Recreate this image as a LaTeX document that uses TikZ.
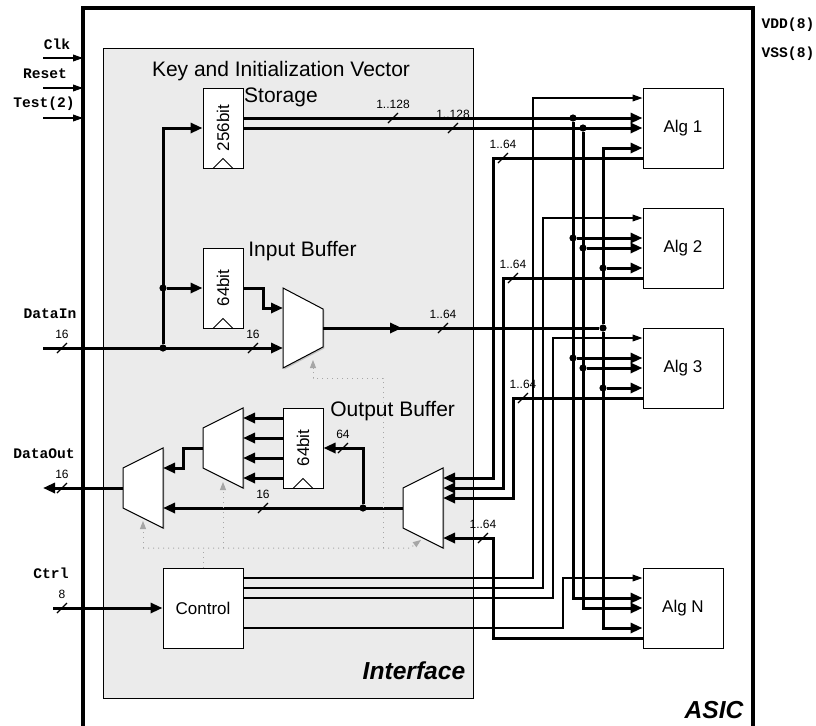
\documentclass[tikz,border=0pt]{standalone}
\usepackage{fontspec}
\setmainfont{Liberation Sans}
\newfontfamily\pinfont{Liberation Mono}
\usetikzlibrary{arrows.meta,shadows}

\tikzset{
  wire/.style={line width=0.6pt},
  bus/.style={line width=1.5pt},
  busarrow/.style={bus, -{Triangle[length=6pt,width=5pt]}},
  wirearrow/.style={wire, -{Triangle[length=5pt,width=3.4pt]}},
  ctlline/.style={black!35, dotted, line width=0.5pt},
  ctlarrow/.style={ctlline, -{Triangle[length=4pt,width=3pt]}},
  boxshadow/.style={drop shadow={shadow xshift=0.7pt, shadow yshift=-0.7pt, opacity=0.4}},
  block/.style={draw, fill=white, line width=0.5pt, minimum width=40pt, minimum height=40pt,
    inner sep=0pt, font=\fontsize{8.5}{10}\selectfont, boxshadow},
  reg/.style={block, minimum width=20pt},
  mux/.style={draw, fill=white, line width=0.5pt, boxshadow},
  pinlabel/.style={font=\pinfont\bfseries\fontsize{7.3}{9}\selectfont},
  blocktitle/.style={inner sep=0pt, font=\fontsize{10.5}{13}\selectfont},
  bigtitle/.style={font=\bfseries\itshape\fontsize{12.3}{14}\selectfont},
  jdot/.style={circle, fill, inner sep=0pt, minimum size=3.6pt},
  pics/buswidth/.style={code={
    \draw[wire] (-5,5) -- (5,-5);
    \node[font=\fontsize{6}{7}\selectfont] at (0,-14) {#1};
  }},
}

\begin{document}
\begin{tikzpicture}[x=0.5pt, y=-0.5pt]
    % 1. Page and frames
    \clip (0,0) rectangle (816,725);
    \draw[line width=2pt] (83,8) rectangle (753,745);
    \draw[fill=black!8, line width=0.5pt, boxshadow] (103,48) rectangle (473,698);
    \node[bigtitle] (iflabel) at (414,671) {Interface};
    \node[bigtitle] (asiclabel) at (714,710) {ASIC};

    % 2. Pins
    \node[pinlabel] (clk) at (57,44) {Clk};
    \node[pinlabel] (rst) at (45,74) {Reset};
    \node[pinlabel] (tst) at (44,104) {Test(2)};
    \node[pinlabel] (vdd) at (788,25) {VDD(8)};
    \node[pinlabel] (vss) at (788,54) {VSS(8)};
    \node[pinlabel] (din) at (50,314) {DataIn};
    \node[pinlabel] (dout) at (44,454) {DataOut};
    \node[pinlabel] (ctl) at (51,573) {Ctrl};
    \foreach \y in {58,88,118}
        \draw[wirearrow] (43,\y) -- (83,\y);

    % 3. Registers, control and algorithm blocks
    \node[reg] (kreg) at (223,128) {};
    \node[reg] (ibuf) at (223,288) {};
    \node[reg] (obuf) at (303,448) {};
    \node[rotate=90, font=\fontsize{8.5}{10}\selectfont] (kregtxt) at (kreg) {256bit};
    \node[rotate=90, font=\fontsize{8.5}{10}\selectfont] (ibuftxt) at (ibuf) {64bit};
    \node[rotate=90, font=\fontsize{8.5}{10}\selectfont] (obuftxt) at (obuf) {64bit};
    \foreach \r in {kreg,ibuf,obuf}
        \draw[line width=0.5pt] ([xshift=-5pt]\r.south) -- ([yshift=5pt]\r.south) -- ([xshift=5pt]\r.south);
    \node[blocktitle, align=center] (keytitle) at (281,84) {Key and Initialization Vector\\Storage};
    \node[blocktitle, anchor=west] (ibtitle) at (248,251) {Input Buffer};
    \node[blocktitle, anchor=west] (obtitle) at (330,411) {Output Buffer};
    \node[block] (ctrl) at (203,608) {Control};
    \foreach \n/\y in {1/128, 2/248, 3/368, N/608}
        \node[block] (alg\n) at (683,\y) {Alg \n};

    % 4. Multiplexers
    \draw[mux] (283,288) -- (323,309) -- (323,347) -- (283,368) -- cycle;
    \draw[mux] (243,408) -- (203,428) -- (203,468) -- (243,488) -- cycle;
    \draw[mux] (163,448) -- (123,468) -- (123,508) -- (163,528) -- cycle;
    \draw[mux] (443,468) -- (403,488) -- (403,528) -- (443,548) -- cycle;

    % 5. Junctions
    \node[jdot] (ja) at (163,348) {};
    \node[jdot] (jb) at (163,288) {};
    \node[jdot] (jc) at (603,328) {};
    \node[jdot] (jd) at (363,508) {};
    \node[jdot] (t1a) at (573,118) {};
    \node[jdot] (t1b) at (583,128) {};
    \node[jdot] (t2a) at (573,238) {};
    \node[jdot] (t2b) at (583,248) {};
    \node[jdot] (t2c) at (603,268) {};
    \node[jdot] (t3a) at (573,358) {};
    \node[jdot] (t3b) at (583,368) {};
    \node[jdot] (t3c) at (603,388) {};

    % 6. Input path
    \draw[busarrow] (43,348) -- (283,348);
    \draw[busarrow] (ja) |- (kreg.west);
    \draw[busarrow] (jb) -- (ibuf.west);
    \draw[busarrow] (ibuf.east) -- (263,288) |- (283,308);
    \draw[bus] (390,328) -- (jc);
    \draw[busarrow] (323,328) -- (402,328);
    \draw[busarrow] (kreg.east |- 0,118) -- (alg1.west |- 0,118);
    \draw[busarrow] (kreg.east |- 0,128) -- (alg1.west |- 0,128);

    % 7. Busses to the algorithms
    \draw[busarrow] (t1a) |- (algN.west |- 0,598);
    \draw[busarrow] (t1b) |- (algN.west |- 0,608);
    \draw[busarrow] (jc) |- (alg1.west |- 0,148);
    \draw[busarrow] (jc) |- (algN.west |- 0,628);
    \foreach \t/\a in {t2a/alg2, t2b/alg2, t2c/alg2, t3a/alg3, t3b/alg3, t3c/alg3}
        \draw[busarrow] (\t) -- (\a.west |- \t);

    % 8. Algorithm outputs to the output mux
    \draw[busarrow] (alg1.west |- 0,158) -| (493,478) -- (443,478);
    \draw[busarrow] (alg2.west |- 0,278) -| (503,488) -- (443,488);
    \draw[busarrow] (alg3.west |- 0,398) -| (513,498) -- (443,498);
    \draw[busarrow] (algN.west |- 0,638) -| (493,538) -- (443,538);

    % 9. Output path
    \draw[busarrow] (403,508) -- (163,508);
    \draw[busarrow] (jd) |- (obuf.east);
    \foreach \y in {418,438,458,478}
        \draw[busarrow] (obuf.west |- 0,\y) -- (243,\y);
    \draw[busarrow] (203,448) -- (183,448) |- (163,468);
    \draw[busarrow] (123,488) -- (43,488);
    \draw[busarrow] (53,608) -- (ctrl.west);

    % 10. Control lines
    \draw[wirearrow] (ctrl.east |- 0,578) -| (533,98) -- (alg1.west |- 0,98);
    \draw[wirearrow] (ctrl.east |- 0,588) -| (543,218) -- (alg2.west |- 0,218);
    \draw[wirearrow] (ctrl.east |- 0,598) -| (553,338) -- (alg3.west |- 0,338);
    \draw[wirearrow] (ctrl.east |- 0,628) -| (563,578) -- (algN.west |- 0,578);
    \draw[ctlline] (ctrl.north) -- (203,548);
    \draw[ctlarrow] (143,548) -- (410,548) -- (421,540);
    \draw[ctlarrow] (143,548) -- (143,521);
    \draw[ctlarrow] (223,548) -- (223,482);
    \draw[ctlarrow] (383,548) |- (313,378) -- (313,360);

    % 11. Bus widths
    \pic at (393,118) {buswidth=1..128};
    \pic at (453,128) {buswidth=1..128};
    \pic at (62,348) {buswidth=16};
    \pic at (253,348) {buswidth=16};
    \pic at (443,328) {buswidth=1..64};
    \pic at (503,158) {buswidth=1..64};
    \pic at (513,278) {buswidth=1..64};
    \pic at (523,398) {buswidth=1..64};
    \pic at (483,538) {buswidth=1..64};
    \pic at (343,448) {buswidth=64};
    \pic at (263,508) {buswidth=16};
    \pic at (62,488) {buswidth=16};
    \pic at (62,608) {buswidth=8};
\end{tikzpicture}
\end{document}
